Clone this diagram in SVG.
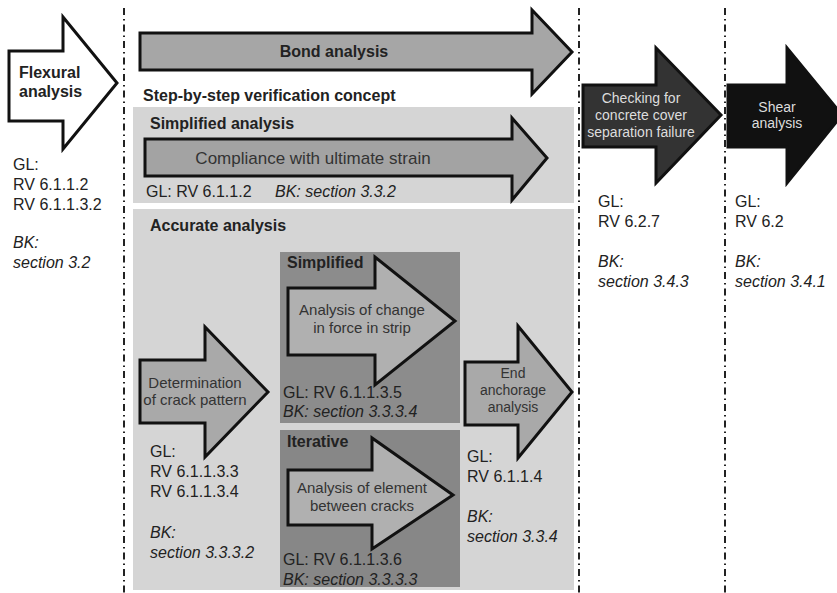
<svg xmlns="http://www.w3.org/2000/svg" width="837" height="593" viewBox="0 0 837 593">
<style>
text{font-family:"Liberation Sans",Arial,sans-serif;fill:#222}
.b{font-weight:bold;font-size:16px}
.t{font-size:16px}
.i{font-size:16px;font-style:italic}
.s{font-size:15px;fill:#333}
.a{stroke:#111;stroke-width:3;stroke-linejoin:miter}
.c{text-anchor:middle}
.div{stroke:#222;stroke-width:2;stroke-dasharray:7 4 1.5 4;fill:none}
</style>
<rect width="837" height="593" fill="#fff"/>
<g id="dividers">
<line class="div" x1="124" y1="8" x2="124" y2="593"/>
<line class="div" x1="579" y1="8" x2="579" y2="593"/>
<line class="div" x1="725" y1="8" x2="725" y2="593"/>
</g>
<g id="flexural">
<path class="a" fill="#fff" d="M9,51 L63,51 L63,17 L117,83 L63,149 L63,121 L9,121 Z"/>
<text class="b" x="19" y="78">Flexural</text>
<text class="b" x="19" y="97">analysis</text>
<text class="t" x="13" y="170">GL:</text>
<text class="t" x="13" y="190">RV 6.1.1.2</text>
<text class="t" x="13" y="210">RV 6.1.1.3.2</text>
<text class="i" x="13" y="248">BK:</text>
<text class="i" x="13" y="268">section 3.2</text>
</g>
<g id="bond">
<path class="a" fill="#a6a6a6" d="M140,33 L532,33 L532,10 L572,52 L532,94 L532,70 L140,70 Z"/>
<text class="b c" x="334" y="57">Bond analysis</text>
<text class="b" x="143" y="101">Step-by-step verification concept</text>
</g>
<g id="simplified-analysis">
<rect x="133" y="107" width="441" height="96" fill="#d5d5d5"/>
<text class="b" x="150" y="129">Simplified analysis</text>
<path class="a" fill="#a3a3a3" d="M145,139 L512,139 L512,118 L547,158 L512,200 L512,176 L145,176 Z"/>
<text class="c" x="313" y="164" style="font-size:17px;fill:#333">Compliance with ultimate strain</text>
<text class="t" x="146" y="197">GL: RV 6.1.1.2</text>
<text class="i" x="275" y="197">BK: section 3.3.2</text>
</g>
<g id="accurate-analysis">
<rect x="133" y="209" width="441" height="381" fill="#d5d5d5"/>
<text class="b" x="150" y="231">Accurate analysis</text>
</g>
<g id="crack-pattern">
<path class="a" fill="#a9a9a9" d="M140,360 L205,360 L205,327 L268,392 L205,457 L205,423 L140,423 Z"/>
<text class="s c" x="195" y="388">Determination</text>
<text class="s c" x="195" y="405">of crack pattern</text>
<text class="t" x="150" y="457">GL:</text>
<text class="t" x="150" y="477">RV 6.1.1.3.3</text>
<text class="t" x="150" y="497">RV 6.1.1.3.4</text>
<text class="i" x="150" y="538">BK:</text>
<text class="i" x="150" y="558">section 3.3.3.2</text>
</g>
<g id="simplified">
<rect x="280" y="252" width="180" height="171" fill="#8c8c8c"/>
<text class="b" x="287" y="268">Simplified</text>
<path class="a" fill="#b0b0b0" d="M288,288 L375,288 L375,257 L455,321 L375,385 L375,355 L288,355 Z"/>
<text class="s c" x="362" y="315">Analysis of change</text>
<text class="s c" x="362" y="333">in force in strip</text>
<text class="t" x="283" y="398">GL: RV 6.1.1.3.5</text>
<text class="i" x="283" y="417">BK: section 3.3.3.4</text>
</g>
<g id="iterative">
<rect x="280" y="430" width="180" height="157" fill="#878787"/>
<text class="b" x="287" y="447">Iterative</text>
<path class="a" fill="#b0b0b0" d="M288,470 L372,470 L372,438 L453,495 L372,549 L372,525 L288,525 Z"/>
<text class="s c" x="362" y="493">Analysis of element</text>
<text class="s c" x="362" y="511">between cracks</text>
<text class="t" x="283" y="565">GL: RV 6.1.1.3.6</text>
<text class="i" x="283" y="585">BK: section 3.3.3.3</text>
</g>
<g id="end-anchorage">
<path class="a" fill="#a9a9a9" d="M465,362 L518,362 L518,326 L572,392 L518,458 L518,425 L465,425 Z"/>
<text class="c" x="513" y="378" style="font-size:14px;fill:#333">End</text>
<text class="c" x="513" y="395" style="font-size:14px;fill:#333">anchorage</text>
<text class="c" x="513" y="412" style="font-size:14px;fill:#333">analysis</text>
<text class="t" x="467" y="462">GL:</text>
<text class="t" x="467" y="482">RV 6.1.1.4</text>
<text class="i" x="467" y="522">BK:</text>
<text class="i" x="467" y="542">section 3.3.4</text>
</g>
<g id="cover-separation">
<path class="a" fill="#333" d="M583,85 L656,85 L656,48 L721,115 L656,183 L656,147 L583,147 Z"/>
<text class="c" x="641" y="103" style="font-size:14px;fill:#ddd">Checking for</text>
<text class="c" x="641" y="120" style="font-size:14px;fill:#ddd">concrete cover</text>
<text class="c" x="641" y="137" style="font-size:14px;fill:#ddd">separation failure</text>
<text class="t" x="598" y="207">GL:</text>
<text class="t" x="598" y="227">RV 6.2.7</text>
<text class="i" x="598" y="267">BK:</text>
<text class="i" x="598" y="287">section 3.4.3</text>
</g>
<g id="shear">
<path class="a" fill="#111" d="M728,85 L787,85 L787,48 L842,115 L787,183 L787,147 L728,147 Z"/>
<text class="c" x="777" y="112" style="font-size:14px;fill:#ddd">Shear</text>
<text class="c" x="777" y="128" style="font-size:14px;fill:#ddd">analysis</text>
<text class="t" x="735" y="207">GL:</text>
<text class="t" x="735" y="227">RV 6.2</text>
<text class="i" x="735" y="267">BK:</text>
<text class="i" x="735" y="287">section 3.4.1</text>
</g>
</svg>
